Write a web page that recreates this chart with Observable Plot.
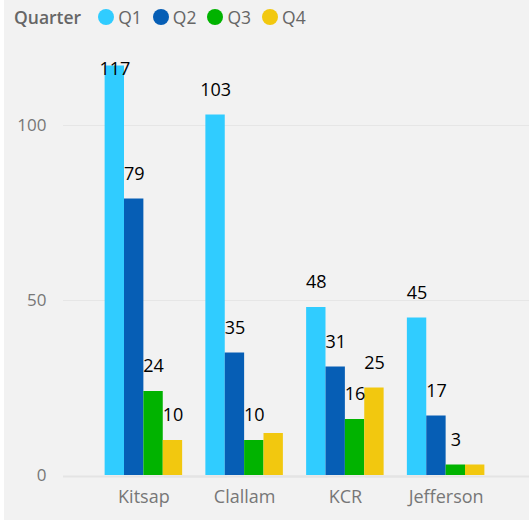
<!DOCTYPE html>
<html>
<head>
<meta charset="utf-8">
<script src="https://cdn.jsdelivr.net/npm/d3@7"></script>
<script src="https://cdn.jsdelivr.net/npm/@observablehq/plot@0.6"></script>
<style>
  html, body { margin: 0; padding: 0; background: #f2f2f2; width: 529px; height: 520px; overflow: hidden; }
  #strip { position: absolute; left: 0; top: 0; width: 4px; height: 520px; background: #ffffff; }
  #legend { display: flex; align-items: center; height: 34px; padding-left: 14px; font-family: "Open Sans", sans-serif; color: #666; font-size: 17.5px; }
  #legend .title { font-weight: 600; margin-right: 17px; }
  #legend .sw { width: 16px; height: 16px; border-radius: 50%; margin-right: 4px; }
  #legend .lab { margin-right: 11px; }
  #chart svg { display: block; }
</style>
</head>
<body>
<div id="strip"></div>
<div id="legend"></div>
<div id="chart"></div>
<script>
const categories = ["Kitsap", "Clallam", "KCR", "Jefferson"];
const quarters = ["Q1", "Q2", "Q3", "Q4"];
const q1 = [117, 103, 48, 45];
const q2 = [79, 35, 31, 17];
const q3 = [24, 10, 16, 3];
const q4 = [10, 12, 25, 3];
const colors = ["#30ccff", "#065eb5", "#01b300", "#f2c80f"];
const yTicks = [0, 50, 100];
const hiddenLabels = ["Clallam|Q4", "Jefferson|Q4"];
const legendTitle = "Quarter";

const series = [q1, q2, q3, q4];
const table = [];
categories.forEach((c, i) => {
  quarters.forEach((q, j) => {
    table.push({region: c, quarter: q, value: series[j][i]});
  });
});
const labelled = table.filter(d => !hiddenLabels.includes(d.region + "|" + d.quarter));
const yMax = 120;
const fitsAbove = d => d.value <= 110;

// legend
const legend = document.getElementById("legend");
const t = document.createElement("span");
t.className = "title"; t.textContent = legendTitle;
legend.appendChild(t);
quarters.forEach((q, j) => {
  const sw = document.createElement("span");
  sw.className = "sw"; sw.style.background = colors[j];
  const lb = document.createElement("span");
  lb.className = "lab"; lb.textContent = q;
  legend.appendChild(sw); legend.appendChild(lb);
});

const chart = Plot.plot({
  width: 529,
  height: 486,
  marginTop: 21,
  marginBottom: 45,
  marginLeft: 93,
  marginRight: 33,
  style: {background: "transparent", fontFamily: "Open Sans, sans-serif", overflow: "visible"},
  fx: {domain: categories, paddingInner: 0, paddingOuter: 0, round: false, axis: null, label: null},
  x: {domain: quarters, paddingInner: 0, paddingOuter: 0.6, round: false, axis: null},
  y: {domain: [0, yMax], axis: null},
  color: {domain: quarters, range: colors},
  marks: [
    Plot.ruleY(yTicks.filter(v => v !== 0), {stroke: "#e6e6e6", strokeWidth: 1, insetLeft: -30, insetRight: -33}),
    Plot.ruleY([0], {stroke: "#e4e4e4", strokeWidth: 2, dy: 1, insetLeft: -30, insetRight: -33}),
    Plot.barY(table, {fx: "region", x: "quarter", y: "value", fill: "quarter"}),
    Plot.text(labelled.filter(fitsAbove), {fx: "region", x: "quarter", y: "value", text: d => String(d.value), dy: -25, fontSize: 18, fill: "#000"}),
    Plot.text(labelled.filter(d => !fitsAbove(d)), {fx: "region", x: "quarter", y: "value", text: d => String(d.value), dy: 3, fontSize: 18, fill: "#000"}),
    Plot.axisY({ticks: yTicks, tickSize: 0, tickPadding: 47, fontSize: 17, color: "#777", label: null}),
    Plot.axisFx({anchor: "bottom", tickSize: 0, tickPadding: 15, fontSize: 18, color: "#777", label: null})
  ]
});
document.getElementById("chart").appendChild(chart);
</script>
</body>
</html>
